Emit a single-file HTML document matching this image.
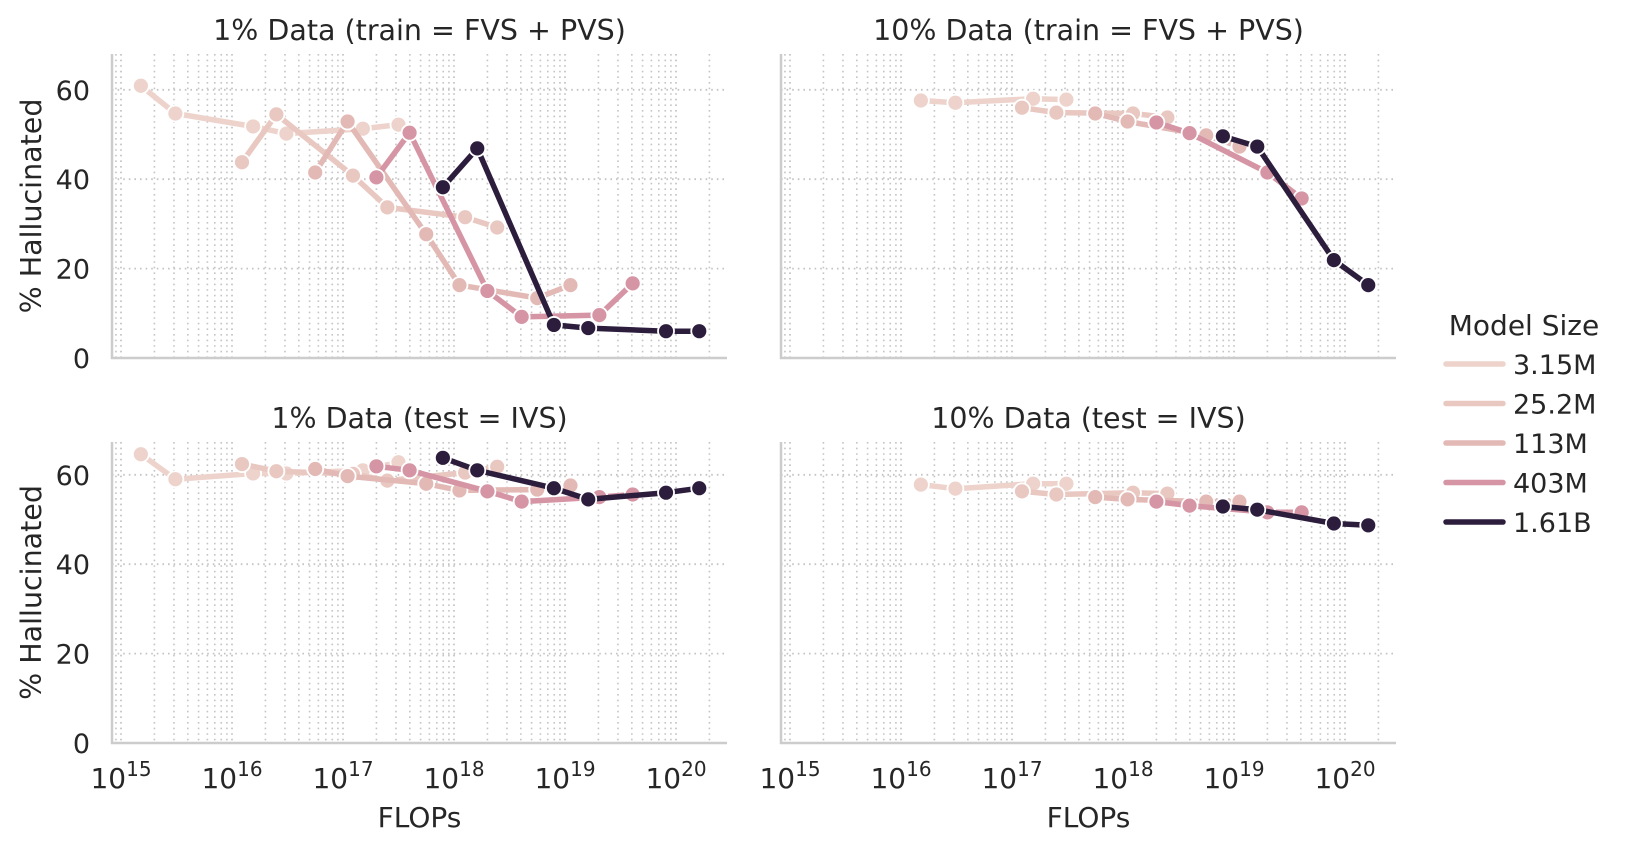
<!DOCTYPE html>
<html><head><meta charset="utf-8">
<style>
html,body{margin:0;padding:0;background:#fff;}
svg{display:block;font-family:"DejaVu Sans","Liberation Sans",sans-serif;}
</style></head>
<body>
<svg id="chart" width="1629" height="851" viewBox="0 0 1629 851" xmlns="http://www.w3.org/2000/svg"></svg>
<script>
const modelNames = ["3.15M","25.2M","113M","403M","1.61B"];
const colors = ["#edd3cb","#e9c8c1","#e3b9b6","#d595a4","#2c1d3d"];
// FLOPs for 1% data runs (per model)
const flops1 = [
  [1.51e15,3.09e15,1.55e16,3.09e16,1.51e17,3.16e17],
  [1.23e16,2.51e16,1.23e17,2.51e17,1.26e18,2.45e18],
  [5.62e16,1.10e17,5.62e17,1.12e18,5.62e18,1.12e19],
  [2.00e17,3.98e17,2.00e18,4.07e18,2.04e19,4.07e19],
  [7.94e17,1.62e18,7.94e18,1.62e19,8.13e19,1.62e20]
];
// FLOPs for 10% data runs
const flops10 = [
  [1.51e16,3.09e16,1.55e17,3.09e17],
  [1.23e17,2.51e17,1.23e18,2.51e18],
  [5.62e17,1.10e18,5.62e18,1.12e19],
  [2.00e18,3.98e18,2.00e19,4.07e19],
  [7.94e18,1.62e19,7.94e19,1.62e20]
];
const train1 = [
  [60.9,54.7,51.8,50.2,51.3,52.2],
  [43.8,54.5,40.8,33.7,31.5,29.2],
  [41.5,52.9,27.7,16.3,13.4,16.3],
  [40.4,50.4,15.0,9.2,9.6,16.7],
  [38.2,46.9,7.4,6.7,6.0,6.0]
];
const test1 = [
  [64.6,59.0,60.3,60.3,61.0,62.8],
  [62.4,60.8,60.2,58.7,60.5,61.8],
  [61.3,59.7,58.0,56.5,56.7,57.6],
  [61.9,61.0,56.3,54.0,55.0,55.6],
  [63.8,61.0,57.0,54.5,56.0,57.0]
];
const train10 = [
  [57.6,57.1,58.0,57.8],
  [56.0,54.9,54.7,53.8],
  [54.7,52.9,49.8,47.3],
  [52.7,50.3,41.5,35.7],
  [49.6,47.3,21.9,16.3]
];
const test10 = [
  [57.8,56.9,58.0,58.0],
  [56.3,55.6,56.0,55.8],
  [55.0,54.5,54.0,54.0],
  [54.0,53.1,51.6,51.6],
  [52.9,52.2,49.1,48.7]
];
const yTicks = [0,20,40,60];
const xDecades = [15,16,17,18,19,20];
const panelTitles = ["1% Data (train = FVS + PVS)","10% Data (train = FVS + PVS)","1% Data (test = IVS)","10% Data (test = IVS)"];

const NS = "http://www.w3.org/2000/svg";
const svg = document.getElementById("chart");
function mk(tag, attrs, parent){
  const e = document.createElementNS(NS, tag);
  for (const k in attrs) e.setAttribute(k, attrs[k]);
  (parent||svg).appendChild(e);
  return e;
}
const panels = [
  {l:112,r:727,t:54,b:358,x0:121,title:panelTitles[0],xs:flops1,ys:train1,yl:true,xl:false},
  {l:781,r:1396,t:54,b:358,x0:790,title:panelTitles[1],xs:flops10,ys:train10,yl:false,xl:false},
  {l:112,r:727,t:442,b:743,x0:121,title:panelTitles[2],xs:flops1,ys:test1,yl:true,xl:true},
  {l:781,r:1396,t:442,b:743,x0:790,title:panelTitles[3],xs:flops10,ys:test10,yl:false,xl:true}
];
const DEC = 111, KY = 4.47;
panels.forEach((p,pi)=>{
  const g = mk("g",{});
  
  
  const X = v => p.x0 + (Math.log10(v)-15)*DEC;
  const Y = v => p.b - v*KY;
  for (let d=14; d<=20; d++){
    for (let m=1; m<=9; m++){
      const px = p.x0 + (d-15+Math.log10(m))*DEC;
      if (px<=p.l+2 || px>=p.r) continue;
      const ln = mk("line",{x1:px,x2:px,y1:p.t,y2:p.b,stroke:"#c4c4c4","stroke-width":m===1?1.8:1.6,"stroke-dasharray":"1.6,4"},g);
      
      
    }
  }
  yTicks.forEach(t=>{
    const ln = mk("line",{x1:p.l,x2:p.r,y1:Y(t),y2:Y(t),stroke:"#c4c4c4","stroke-width":1.8,"stroke-dasharray":"1.6,4"},g);
    
    
    if (p.yl){
      const tx = mk("text",{x:90,y:Y(t)+10,"text-anchor":"end","font-size":27,fill:"#262626"},g);
      tx.textContent = t;
      
      
    }
  });
  const sp1 = mk("line",{x1:p.l,x2:p.l,y1:p.t,y2:p.b+1,stroke:"#cccccc","stroke-width":2.5},g);
  
  
  const sp2 = mk("line",{x1:p.l-1,x2:p.r,y1:p.b,y2:p.b,stroke:"#cccccc","stroke-width":2.5},g);
  
  
  const ti = mk("text",{x:(p.l+p.r)/2,y:p.t-14,"text-anchor":"middle","font-size":28.5,fill:"#262626"},g);
  ti.textContent = p.title;
  
  
  if (p.xl){
    xDecades.forEach(d=>{
      const px = p.x0 + (d-15)*DEC;
      const tx = mk("text",{x:px,y:p.b+45,"text-anchor":"middle","font-size":28,fill:"#262626"},g);
      
      
      const a = mk("tspan",{},tx); a.textContent = "10";
      const b = mk("tspan",{dy:-12,"font-size":20},tx); b.textContent = String(d);
    });
    const xl = mk("text",{x:(p.l+p.r)/2,y:p.b+84,"text-anchor":"middle","font-size":28,fill:"#262626"},g);
    xl.textContent = "FLOPs";
    
    
  }
  if (p.yl){
    const cy = (p.t+p.b)/2;
    const yl = mk("text",{x:41,y:cy,"text-anchor":"middle","font-size":28.5,fill:"#262626",transform:"rotate(-90 41 "+cy+")"},g);
    yl.textContent = "% Hallucinated";
    
    
  }
  p.xs.forEach((xarr,si)=>{
    const yarr = p.ys[si];
    const sg = mk("g",{},g);
    
    
    const pts = xarr.map((x,i)=>X(x).toFixed(1)+","+Y(yarr[i]).toFixed(1)).join(" ");
    const pl = mk("polyline",{points:pts,fill:"none",stroke:colors[si],"stroke-width":5.5,"stroke-linejoin":"round","stroke-linecap":"round"},sg);
    
    
    xarr.forEach((x,i)=>{
      const c = mk("circle",{cx:X(x),cy:Y(yarr[i]),r:8,fill:colors[si],stroke:"#ffffff","stroke-width":1.8},sg);
      
      
    });
  });
});
const lg = mk("g",{});


const lt = mk("text",{x:1524,y:335,"text-anchor":"middle","font-size":28,fill:"#262626"},lg);
lt.textContent = "Model Size";


modelNames.forEach((n,i)=>{
  const y = 364 + i*39.5;
  const eg = mk("g",{},lg);
  
  
  mk("line",{x1:1446,x2:1503,y1:y,y2:y,stroke:colors[i],"stroke-width":5.5,"stroke-linecap":"round"},eg);
  const t = mk("text",{x:1513,y:y+10,"font-size":27,fill:"#262626"},eg);
  t.textContent = n;
});
</script>
</body></html>
